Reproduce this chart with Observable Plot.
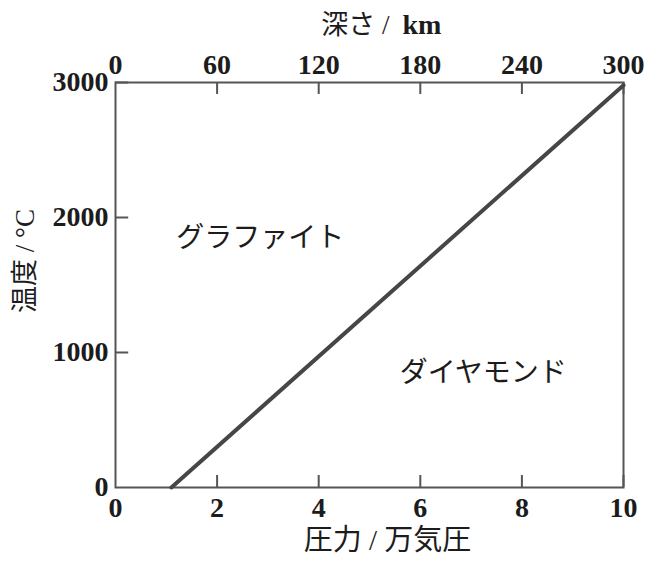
<!DOCTYPE html>
<html><head><meta charset="utf-8">
<script src="https://cdn.jsdelivr.net/npm/d3@7"></script>
<script src="https://cdn.jsdelivr.net/npm/@observablehq/plot@0.6"></script>
<style>body{margin:0;background:#fff} svg{display:block}</style>
</head><body><div id="chart"></div>
<script>
// graphite–diamond phase boundary
const boundaryPressure = [1.1, 10];      // 万気圧
const boundaryTemp = [0, 2980];          // °C
const pressureTicks = [0, 2, 4, 6, 8, 10];
const depthTicks = [0, 60, 120, 180, 240, 300]; // km
const tempTicks = [0, 1000, 2000, 3000];
const kmPerPressure = 30;                // depth km per 万気圧
const regionNames = ["グラファイト", "ダイヤモンド"];
const regionPressure = [2.85, 7.24];
const regionTemp = [1850, 845];

const boundary = boundaryPressure.map((p, i) => ({p, t: boundaryTemp[i]}));
const regions = regionNames.map((n, i) => ({n, p: regionPressure[i], t: regionTemp[i]}));

const serif = "'Liberation Serif', 'Times New Roman', serif";
const cjk = "'Liberation Serif', 'Noto Sans CJK JP', sans-serif";
const ink = "#1c1c1c";
const axisColor = "#555";
const tickY = 89;    // inward tick length (°C units)
const tickX = 0.26;  // inward tick length (万気圧 units)

const chart = Plot.plot({
  width: 650,
  height: 562,
  marginLeft: 115,
  marginRight: 27,
  marginTop: 82,
  marginBottom: 75,
  style: {background: "#fff", color: ink},
  x: {domain: [0, 10]},
  y: {domain: [0, 3000]},
  marks: [
    Plot.frame({stroke: axisColor, strokeWidth: 2}),
    // inward ticks
    Plot.ruleX(pressureTicks.slice(1), {x: d => d, y1: 0, y2: tickY, stroke: axisColor, strokeWidth: 2}),
    Plot.ruleX(depthTicks.slice(1), {x: d => d / kmPerPressure, y1: 3000 - tickY, y2: 3000, stroke: axisColor, strokeWidth: 2}),
    Plot.ruleY(tempTicks.slice(1), {y: d => d, x1: 0, x2: tickX, stroke: axisColor, strokeWidth: 2}),
    // tick labels
    Plot.axisX({anchor: "bottom", ticks: pressureTicks, tickFormat: d => String(d), tickSize: 0, tickPadding: 10,
      fontSize: 28, fontWeight: "bold", fontFamily: serif, fill: ink, label: null}),
    Plot.axisX({anchor: "top", ticks: depthTicks.map(d => d / kmPerPressure),
      tickFormat: d => String(Math.round(d * kmPerPressure)), tickSize: 0, tickPadding: 9,
      fontSize: 28, fontWeight: "bold", fontFamily: serif, fill: ink, label: null}),
    Plot.axisY({anchor: "left", ticks: tempTicks, tickFormat: d => String(d), tickSize: 0, tickPadding: 7,
      fontSize: 28, fontWeight: "bold", fontFamily: serif, fill: ink, label: null}),
    // boundary line
    Plot.line(boundary, {x: "p", y: "t", stroke: "#464646", strokeWidth: 4}),
    // region labels
    Plot.text(regions, {x: "p", y: "t", text: "n", fontSize: 28, fontFamily: "'Noto Sans CJK JP', sans-serif", fill: ink}),
    // axis titles
    Plot.text(["圧力 / 万気圧"], {text: d => d, frameAnchor: "bottom", textAnchor: "middle", lineAnchor: "middle",
      dx: 18, dy: 53, fontSize: 29, fontFamily: cjk, fill: ink}),
    Plot.text(["深さ /"], {text: d => d, frameAnchor: "top", textAnchor: "end", lineAnchor: "middle",
      dx: 20, dy: -57, fontSize: 27, fontFamily: cjk, fill: ink}),
    Plot.text(["km"], {text: d => d, frameAnchor: "top", textAnchor: "start", lineAnchor: "middle",
      dx: 33, dy: -57, fontSize: 28, fontWeight: "bold", fontFamily: serif, fill: ink}),
    Plot.text(["温度 / °C"], {text: d => d, frameAnchor: "left", textAnchor: "middle", lineAnchor: "middle",
      dx: -90, dy: -24, rotate: -90, fontSize: 27, fontFamily: cjk, fill: ink})
  ]
});
document.getElementById("chart").appendChild(chart);
</script>
</body></html>
